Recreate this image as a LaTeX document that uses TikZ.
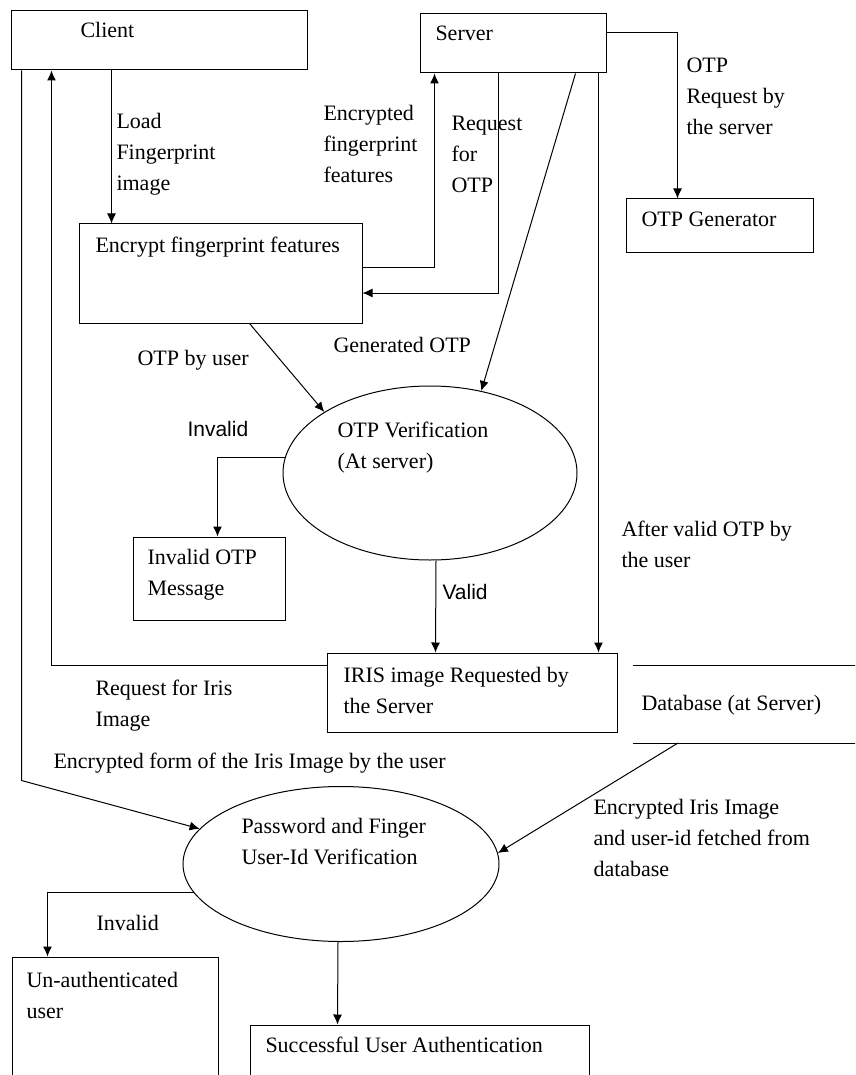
\documentclass[tikz,border=0pt]{standalone}
\usepackage{fontspec}
\setmainfont{Liberation Serif}
\newfontfamily\labsans{Liberation Sans}
\usetikzlibrary{arrows.meta,shapes.geometric}

\begin{document}
\begin{tikzpicture}[x=1pt,y=-1pt,line width=1pt,
		>={Latex[length=10pt,width=9pt]},
		every node/.style={font=\fontsize{22}{31}\selectfont},
		box/.style={draw,rectangle,inner sep=0pt},
		oval/.style={draw,ellipse,inner sep=0pt},
		txt/.style={anchor=west,align=left,inner sep=0pt},
		sanstxt/.style={txt,font=\labsans\fontsize{21}{31}\selectfont}]
			\useasboundingbox (0,0) rectangle (855,1075);
			\clip (0,0) rectangle (855,1075);
			\node[box,minimum width=296,minimum height=59] (client) at (159,40.5) {};
			\node[box,minimum width=186,minimum height=59] (server) at (513,43.5) {};
			\node[box,minimum width=187,minimum height=53] (otpgen) at (719.5,225.5) {};
			\node[box,minimum width=283,minimum height=99] (enc) at (220.5,273.5) {};
			\node[oval,minimum width=294,minimum height=174] (otpv) at (430,473) {};
			\node[box,minimum width=152,minimum height=83] (invmsg) at (209,578.5) {};
			\node[box,minimum width=290,minimum height=79] (iris) at (472,692.5) {};
			\node[oval,minimum width=316,minimum height=155] (pwd) at (341,864) {};
			\node[box,minimum width=206,minimum height=143] (unauth) at (115,1028.5) {};
			\node[box,minimum width=339,minimum height=75] (succ) at (419.5,1062.5) {};
			\draw (633,665) -- (860,665);
			\draw (633,743) -- (860,743);
			\coordinate (dbout) at (678,743);
			\foreach \n/\x/\y/\t in {clientt/80/30/{Client},servert/435/33/{Server},
				otpgent/641/219/{OTP Generator},enct/95/247/{Encrypt fingerprint features},
				otpvt/337/448/{OTP Verification\\(At server)},invmsgt/147/575/{Invalid OTP\\Message},
				irist/343/690/{IRIS image Requested by\\the Server},dbt/641/705/{Database (at Server)},
				pwdt/241/842/{Password and Finger\\User-Id Verification},unautht/26/995/{Un-authenticated\\user},
				succt/265/1045/{Successful User Authentication}}{
				\node[txt] (\n) at (\x,\y) {\t};
			}
			\foreach \n/\x/\y/\t in {lload/116/154/{Load\\Fingerprint\\image},
				lencf/323/144/{Encrypted\\fingerprint\\features},lreq/451/154/{Request\\for\\OTP},
				lotpreq/686/96/{OTP\\Request by\\the server},lbyuser/137/360/{OTP by user},
				lgen/333/345/{Generated OTP},lafter/621/544/{After valid OTP by\\the user},
				liris/95/706/{Request for Iris\\Image},lform/53/763/{Encrypted form of the Iris Image by the user},
				lfetch/593/838/{Encrypted Iris Image\\and user-id fetched from\\database},linv/96/923/{Invalid}}{
				\node[txt] (\n) at (\x,\y) {\t};
			}
			\node[sanstxt] (linvotp) at (187,429) {Invalid};
			\node[sanstxt] (lvalid) at (442,592) {Valid};
			\draw[->] ([xshift=101]client.south west) -- ([xshift=33]enc.north west);
			\draw[->] ([xshift=11]client.south west) -- ++(0,710) -- (pwd.166);
			\draw[->] ([yshift=27.5]iris.west) -| ([xshift=41]client.south west);
			\draw[->] ([yshift=6.5]enc.east) -| ([xshift=15]server.south west);
			\draw[->] ([xshift=79]server.south west) |- ([yshift=-19.5]enc.east);
			\draw[->] ([xshift=156]server.south west) -- (otpv.58);
			\draw[->] ([xshift=179]server.south west) -- ([xshift=272]iris.north west);
			\draw[->] ([yshift=10.5]server.east) -| ([xshift=52]otpgen.north west);
			\draw[->] ([xshift=171]enc.south west) -- (otpv.150);
			\draw[->] (otpv.174) -| ([xshift=85]invmsg.north west);
			\draw[->] ([xshift=6]otpv.south) -- ([xshift=109]iris.north west);
			\draw[->] (dbout) -- (pwd.4);
			\draw[->] (pwd.191) -| ([xshift=36]unauth.north west);
			\draw[->] ([xshift=-3]pwd.south) -- ([xshift=88]succ.north west);
		\end{tikzpicture}
\end{document}
